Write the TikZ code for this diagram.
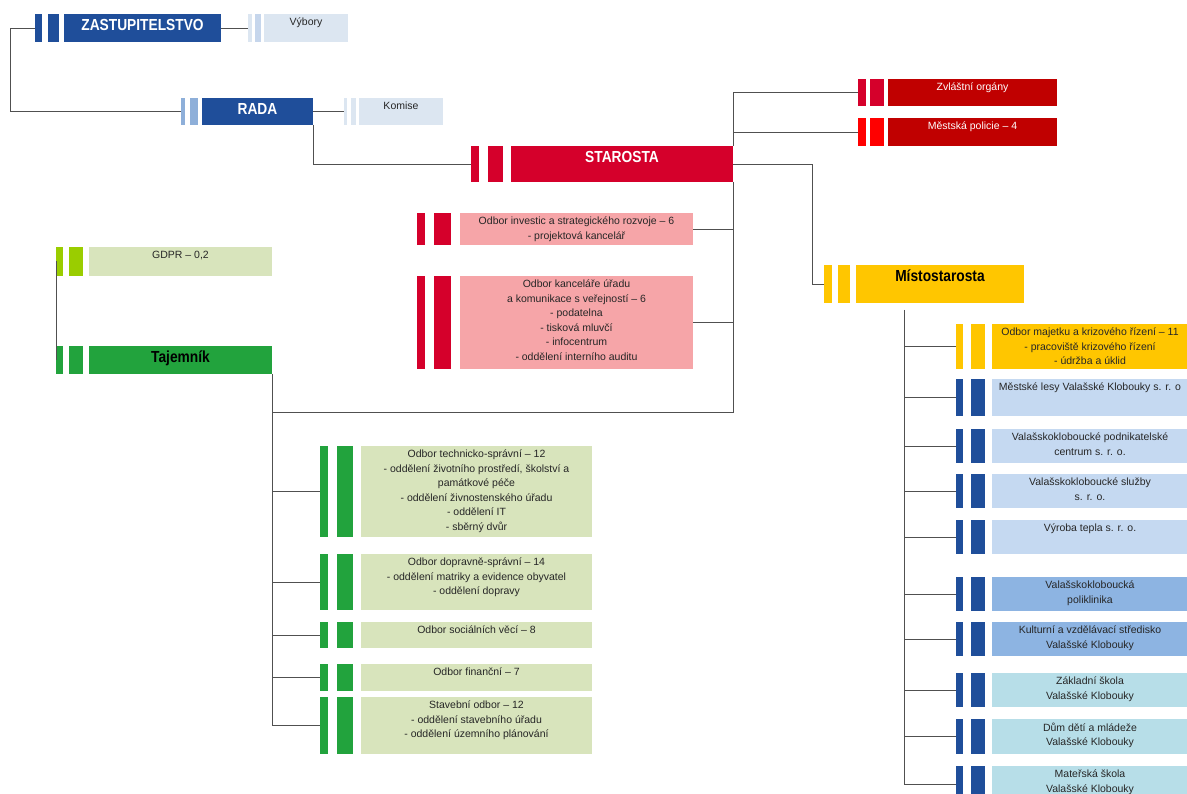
\documentclass[tikz,border=0pt]{standalone}
\usepackage{fontspec}
\setmainfont{Liberation Sans}
\newfontfamily\headfont[FakeStretch=0.86]{Liberation Sans}

\definecolor{cityblue}{HTML}{1F4E9A}
\definecolor{paleblue}{HTML}{DCE6F1}
\definecolor{palebar}{HTML}{C6D6EC}
\definecolor{midbar}{HTML}{8EAFD9}
\definecolor{mayorred}{HTML}{D5002B}
\definecolor{darkred}{HTML}{C00000}
\definecolor{brightred}{HTML}{FF0000}
\definecolor{pinkbox}{HTML}{F6A5A8}
\definecolor{limebar}{HTML}{9ACD00}
\definecolor{sagebox}{HTML}{D8E4BC}
\definecolor{clerkgreen}{HTML}{22A33D}
\definecolor{deputyyellow}{HTML}{FFC600}
\definecolor{firmblue}{HTML}{C5D9F1}
\definecolor{servblue}{HTML}{8DB4E2}
\definecolor{schoolblue}{HTML}{B7DEE8}
\definecolor{textgray}{HTML}{262626}
\definecolor{linegray}{HTML}{505050}

% two coloured bars in front of a box, #1 node, #2/#3 colours, #4/#5 widths, #6 gap
\newcommand{\unitbars}[6]{%
  \fill[#2] ([xshift={-(2*#6+#5+#4)}]#1.north west) rectangle ([xshift={-(2*#6+#5)}]#1.south west);
  \fill[#3] ([xshift={-(#6+#5)}]#1.north west) rectangle ([xshift={-#6}]#1.south west);
  \coordinate (#1-in) at ([xshift={-(2*#6+#5+#4)}]#1.west);
}

\tikzset{
  box/.style={anchor=north west, inner sep=0pt, outer sep=0pt},
  intext/.style={anchor=north, align=center, inner xsep=0pt, inner ysep=3.5pt,
    text=textgray, font=\fontsize{10.5}{14.6}\selectfont},
  headtext/.style={anchor=north, inner xsep=0pt, inner ysep=5.5pt,
    font=\headfont\bfseries\fontsize{16}{18}\selectfont},
  link/.style={draw=linegray, line width=0.8pt}
}

\begin{document}
\begin{tikzpicture}[x=1pt, y=-1pt]
  \useasboundingbox (0,0) rectangle (1187,794);

  % council and board
  \node[box, fill=cityblue, minimum width=157, minimum height=28,
    label={[headtext, text=white]north:ZASTUPITELSTVO}] (zast) at (64,14) {};
  \node[box, fill=paleblue, minimum width=84, minimum height=28,
    label={[intext]north:Výbory}] (vybory) at (264,14) {};
  \node[box, fill=cityblue, minimum width=111, minimum height=27,
    label={[headtext, text=white]north:RADA}] (rada) at (202,98) {};
  \node[box, fill=paleblue, minimum width=84, minimum height=27,
    label={[intext]north:Komise}] (komise) at (359,98) {};
  \unitbars{zast}{cityblue}{cityblue}{7}{11}{5.5}
  \unitbars{vybory}{paleblue}{palebar}{4}{6}{3}
  \unitbars{rada}{midbar}{midbar}{4}{8}{4.5}
  \unitbars{komise}{paleblue}{paleblue}{3}{5}{3.5}

  % mayor and his units
  \node[box, fill=mayorred, minimum width=222, minimum height=36,
    label={[headtext, text=white]north:STAROSTA}] (starosta) at (511,146) {};
  \node[box, fill=darkred, minimum width=169, minimum height=27,
    label={[intext, text=white]north:Zvláštní orgány}] (zvlastni) at (888,79) {};
  \node[box, fill=darkred, minimum width=169, minimum height=28,
    label={[intext, text=white]north:Městská policie – 4}] (policie) at (888,118) {};
  \node[box, fill=pinkbox, minimum width=233, minimum height=32,
    label={[intext]north:{Odbor investic a strategického rozvoje – 6\\- projektová kancelář}}] (investic) at (460,213) {};
  \node[box, fill=pinkbox, minimum width=233, minimum height=93,
    label={[intext]north:{Odbor kanceláře úřadu\\a komunikace s veřejností – 6\\- podatelna\\- tisková mluvčí\\- infocentrum\\- oddělení interního auditu}}] (kancelar) at (460,276) {};
  \unitbars{starosta}{mayorred}{mayorred}{8}{15}{8.5}
  \unitbars{zvlastni}{mayorred}{mayorred}{8}{14}{4}
  \unitbars{policie}{brightred}{brightred}{8}{14}{4}
  \unitbars{investic}{mayorred}{mayorred}{8}{17}{9}
  \unitbars{kancelar}{mayorred}{mayorred}{8}{17}{9}

  % secretary and departments
  \node[box, fill=sagebox, minimum width=183, minimum height=29,
    label={[intext]north:{GDPR – 0,2}}] (gdpr) at (89,247) {};
  \node[box, fill=clerkgreen, minimum width=183, minimum height=28,
    label={[headtext, text=black, inner ysep=4.5pt]north:Tajemník}] (tajemnik) at (89,346) {};
  \node[box, fill=sagebox, minimum width=231, minimum height=91,
    label={[intext]north:{Odbor technicko-správní – 12\\- oddělení životního prostředí, školství a\\památkové péče\\- oddělení živnostenského úřadu\\- oddělení IT\\- sběrný dvůr}}] (technicky) at (361,446) {};
  \node[box, fill=sagebox, minimum width=231, minimum height=56,
    label={[intext]north:{Odbor dopravně-správní – 14\\- oddělení matriky a evidence obyvatel\\- oddělení dopravy}}] (dopravni) at (361,554) {};
  \node[box, fill=sagebox, minimum width=231, minimum height=26,
    label={[intext]north:Odbor sociálních věcí – 8}] (socialni) at (361,622) {};
  \node[box, fill=sagebox, minimum width=231, minimum height=27,
    label={[intext]north:Odbor finanční – 7}] (financni) at (361,664) {};
  \node[box, fill=sagebox, minimum width=231, minimum height=57,
    label={[intext]north:{Stavební odbor – 12\\- oddělení stavebního úřadu\\- oddělení územního plánování}}] (stavebni) at (361,697) {};
  \unitbars{gdpr}{limebar}{limebar}{7}{14}{6}
  \unitbars{tajemnik}{clerkgreen}{clerkgreen}{7}{14}{6}
  \unitbars{technicky}{clerkgreen}{clerkgreen}{8}{16}{8.5}
  \unitbars{dopravni}{clerkgreen}{clerkgreen}{8}{16}{8.5}
  \unitbars{socialni}{clerkgreen}{clerkgreen}{8}{16}{8.5}
  \unitbars{financni}{clerkgreen}{clerkgreen}{8}{16}{8.5}
  \unitbars{stavebni}{clerkgreen}{clerkgreen}{8}{16}{8.5}

  % deputy mayor and town companies
  \node[box, fill=deputyyellow, minimum width=168, minimum height=38,
    label={[headtext, text=black, inner ysep=4.5pt]north:Místostarosta}] (misto) at (856,265) {};
  \node[box, fill=deputyyellow, minimum width=196, minimum height=45,
    label={[intext]north:{Odbor majetku a krizového řízení – 11\\- pracoviště krizového řízení\\- údržba a úklid}}] (majetek) at (992,324) {};
  \node[box, fill=firmblue, minimum width=196, minimum height=37,
    label={[intext]north:Městské lesy Valašské Klobouky s. r. o}] (lesy) at (992,379) {};
  \node[box, fill=firmblue, minimum width=196, minimum height=34,
    label={[intext]north:{Valašskokloboucké podnikatelské\\centrum s. r. o.}}] (podnik) at (992,429) {};
  \node[box, fill=firmblue, minimum width=196, minimum height=34,
    label={[intext]north:{Valašskokloboucké služby\\s. r. o.}}] (sluzby) at (992,474) {};
  \node[box, fill=firmblue, minimum width=196, minimum height=34,
    label={[intext]north:Výroba tepla s. r. o.}] (teplo) at (992,520) {};
  \node[box, fill=servblue, minimum width=196, minimum height=34,
    label={[intext]north:{Valašskokloboucká\\poliklinika}}] (poliklinika) at (992,577) {};
  \node[box, fill=servblue, minimum width=196, minimum height=34,
    label={[intext]north:{Kulturní a vzdělávací středisko\\Valašské Klobouky}}] (kultura) at (992,622) {};
  \node[box, fill=schoolblue, minimum width=196, minimum height=34,
    label={[intext]north:{Základní škola\\Valašské Klobouky}}] (zakladni) at (992,673) {};
  \node[box, fill=schoolblue, minimum width=196, minimum height=35,
    label={[intext]north:{Dům dětí a mládeže\\Valašské Klobouky}}] (ddm) at (992,719) {};
  \node[box, fill=schoolblue, minimum width=196, minimum height=36,
    label={[intext]north:{Mateřská škola\\Valašské Klobouky}}] (materska) at (992,766) {};
  \unitbars{misto}{deputyyellow}{deputyyellow}{8}{12}{6}
  \unitbars{majetek}{deputyyellow}{deputyyellow}{7}{14}{7.5}
  \unitbars{lesy}{cityblue}{cityblue}{7}{14}{7.5}
  \unitbars{podnik}{cityblue}{cityblue}{7}{14}{7.5}
  \unitbars{sluzby}{cityblue}{cityblue}{7}{14}{7.5}
  \unitbars{teplo}{cityblue}{cityblue}{7}{14}{7.5}
  \unitbars{poliklinika}{cityblue}{cityblue}{7}{14}{7.5}
  \unitbars{kultura}{cityblue}{cityblue}{7}{14}{7.5}
  \unitbars{zakladni}{cityblue}{cityblue}{7}{14}{7.5}
  \unitbars{ddm}{cityblue}{cityblue}{7}{14}{7.5}
  \unitbars{materska}{cityblue}{cityblue}{7}{14}{7.5}

  % connectors
  \coordinate (joint) at (272,412);
  \coordinate (misto-trunk) at (904,310);
  \draw[link] (zast.east) -- (vybory-in);
  \draw[link] (rada.east) -- (komise-in);
  \draw[link] (zast-in) -- ++(-25,0) |- (rada-in);
  \draw[link] (rada.south east) |- (starosta-in);
  \draw[link] (zvlastni-in) -| (starosta.north east);
  \draw[link] (starosta.east |- policie-in) -- (policie-in);
  \draw[link] (starosta.south east) |- (joint);
  \draw[link] (investic.east) -- (investic.east -| starosta.east);
  \draw[link] (kancelar.east) -- (kancelar.east -| starosta.east);
  \draw[link] (starosta.east) -| ([xshift=-12]misto-in) -- (misto-in);
  \draw[link] (gdpr-in) -- (tajemnik-in);
  \draw[link] (tajemnik.south east) |- (stavebni-in);
  \draw[link] (tajemnik.south east |- technicky-in) -- (technicky-in);
  \draw[link] (tajemnik.south east |- dopravni-in) -- (dopravni-in);
  \draw[link] (tajemnik.south east |- socialni-in) -- (socialni-in);
  \draw[link] (tajemnik.south east |- financni-in) -- (financni-in);
  \draw[link] (misto-trunk) |- (materska-in);
  \draw[link] (misto-trunk |- majetek-in) -- (majetek-in);
  \draw[link] (misto-trunk |- lesy-in) -- (lesy-in);
  \draw[link] (misto-trunk |- podnik-in) -- (podnik-in);
  \draw[link] (misto-trunk |- sluzby-in) -- (sluzby-in);
  \draw[link] (misto-trunk |- teplo-in) -- (teplo-in);
  \draw[link] (misto-trunk |- poliklinika-in) -- (poliklinika-in);
  \draw[link] (misto-trunk |- kultura-in) -- (kultura-in);
  \draw[link] (misto-trunk |- zakladni-in) -- (zakladni-in);
  \draw[link] (misto-trunk |- ddm-in) -- (ddm-in);
\end{tikzpicture}
\end{document}
